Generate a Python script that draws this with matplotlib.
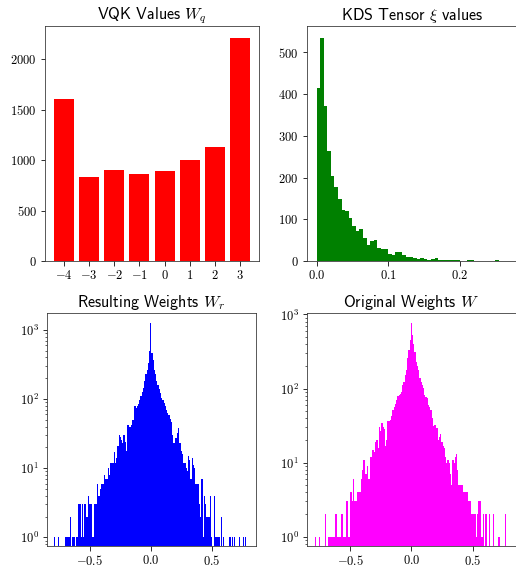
import numpy as np
import matplotlib
matplotlib.use('Agg')
from matplotlib import pyplot as plt

plt.rcParams['font.family'] = 'cmr10'
plt.rcParams['mathtext.fontset'] = 'cm'
plt.rcParams['axes.formatter.use_mathtext'] = True
plt.rcParams['font.size'] = 12.5
plt.rcParams['xtick.major.size'] = 4.5
plt.rcParams['ytick.major.size'] = 4.5
plt.rcParams['axes.edgecolor'] = '#333333'

# VQK quantised levels and how often each one occurs
vqk_levels = [-4, -3, -2, -1, 0, 1, 2, 3]
vqk_counts = [1606, 830, 905, 860, 889, 998, 1133, 2214]

# KDS tensor xi histogram, bins of width 0.005 starting at 0
xi_bin_width = 0.005
xi_counts = [415, 534, 372, 263, 203, 178, 148, 122, 120, 102,
             85, 72, 76, 54, 38, 48, 51, 31, 28, 29,
             16, 14, 21, 22, 14, 10, 9, 6, 5, 7,
             4, 3, 5, 6, 3, 2, 3, 2, 3, 2,
             1, 0, 2, 2, 1, 0, 0, 0, 0, 1,
             2, 1, 1]

# weight histograms, bins of width 0.01 centred on -0.79 ... 0.79
w_bin_width = 0.01
wr_counts = [1, 0, 0, 1, 0, 0, 0, 0, 0, 1,            # -0.79 .. -0.70
             1, 1, 1, 2, 0, 1, 1, 0, 1, 1,
             3, 3, 1, 3, 1, 3, 2, 2, 4, 3,
             3, 1, 1, 3, 3, 6, 4, 4, 5, 6,
             6, 8, 7, 7, 10, 8, 12, 12, 12, 17,
             12, 14, 21, 30, 28, 26, 23, 30, 24, 18,
             42, 42, 40, 42, 50, 50, 79, 74, 80, 85,
             98, 110, 125, 144, 180, 230, 266, 332, 490, 1260,   # -0.09 .. 0.00
             463, 372, 266, 230, 180, 162, 140, 122, 103, 98,
             88, 79, 70, 63, 59, 52, 47, 30, 23, 27,
             27, 32, 38, 23, 18, 16, 12, 12, 10, 9,
             15, 13, 7, 14, 11, 10, 6, 6, 6, 3,
             2, 7, 1, 4, 3, 2, 2, 2, 4, 1,
             0, 4, 1, 1, 1, 1, 0, 2, 0, 1,
             0, 0, 0, 0, 1, 0, 1, 0, 1, 0,
             0, 0, 1, 0, 0, 1, 0, 1, 0]           # 0.71 .. 0.79
w_counts = [0, 1, 0, 0, 1, 0, 0, 0, 0, 2,
            0, 1, 1, 1, 1, 1, 1, 2, 2, 1,
            1, 1, 2, 2, 1, 1, 3, 3, 1, 4,
            4, 3, 6, 3, 3, 4, 4, 4, 6, 8,
            11, 11, 7, 9, 6, 6, 12, 15, 15, 14,
            19, 20, 16, 30, 27, 34, 30, 28, 17, 20,
            36, 36, 38, 42, 52, 57, 62, 70, 80, 82,
            85, 91, 112, 124, 150, 178, 257, 330, 450, 760,
            530, 400, 315, 230, 200, 178, 138, 124, 110, 101,
            82, 78, 74, 60, 57, 52, 40, 31, 32, 32,
            29, 20, 22, 24, 19, 17, 16, 12, 10, 11,
            10, 7, 5, 11, 10, 12, 13, 8, 5, 5,
            5, 5, 4, 4, 4, 4, 3, 3, 2, 2,
            2, 2, 1, 2, 3, 3, 1, 1, 2, 0,
            2, 0, 0, 2, 0, 0, 2, 0, 0, 0,
            1, 1, 0, 0, 0, 0, 2, 0, 0]

W, H = 516, 569
fig = plt.figure(figsize=(W / 72, H / 72), dpi=72)

def axes_px(l, t, r, b):
    return fig.add_axes([l / W, 1 - b / H, (r - l) / W, (b - t) / H])

title_font = dict(family='cmss10', size=16)

# top left: bar chart of quantised values
ax = axes_px(45, 26, 259, 261)
ax.bar(vqk_levels, vqk_counts, color='r')
ax.set_xticks(vqk_levels)
ax.set_yticks([0, 500, 1000, 1500, 2000])
ax.set_xlim(-4.75, 3.75)
ax.set_ylim(0, 2330)
ax.set_title(r'VQK Values $W_q$', fontdict=title_font)

# top right: xi histogram
xi_edges = np.arange(len(xi_counts) + 1) * xi_bin_width
ax = axes_px(306.5, 26, 517.5, 261)
ax.hist(xi_edges[:-1], bins=xi_edges, weights=xi_counts, color='g')
ax.set_xticks([0.0, 0.1, 0.2])
ax.set_xlim(-0.014, 0.281)
ax.set_ylim(0, 563)
ax.set_title(r'KDS Tensor $\xi$ values', fontdict=title_font)

# bottom: weight histograms on log scale
w_edges = (np.arange(len(wr_counts) + 1) - 79.5) * w_bin_width

ax = axes_px(46.7, 313.3, 256, 546)
ax.hist(w_edges[:-1] + w_bin_width / 2, bins=w_edges, weights=wr_counts,
        color='b', log=True)
ax.set_xticks([-0.5, 0.0, 0.5])
ax.set_xlim(-0.855, 0.864)
ax.set_ylim(0.75, 1740)
ax.set_title(r'Resulting Weights $W_r$', fontdict=title_font)

ax = axes_px(306.7, 313.3, 516.5, 546)
ax.hist(w_edges[:-1] + w_bin_width / 2, bins=w_edges, weights=w_counts,
        color='magenta', log=True)
ax.set_xticks([-0.5, 0.0, 0.5])
ax.set_xlim(-0.855, 0.859)
ax.set_ylim(0.75, 1035)
ax.set_title(r'Original Weights $W$', fontdict=title_font)

plt.savefig('out.png', dpi=72)
